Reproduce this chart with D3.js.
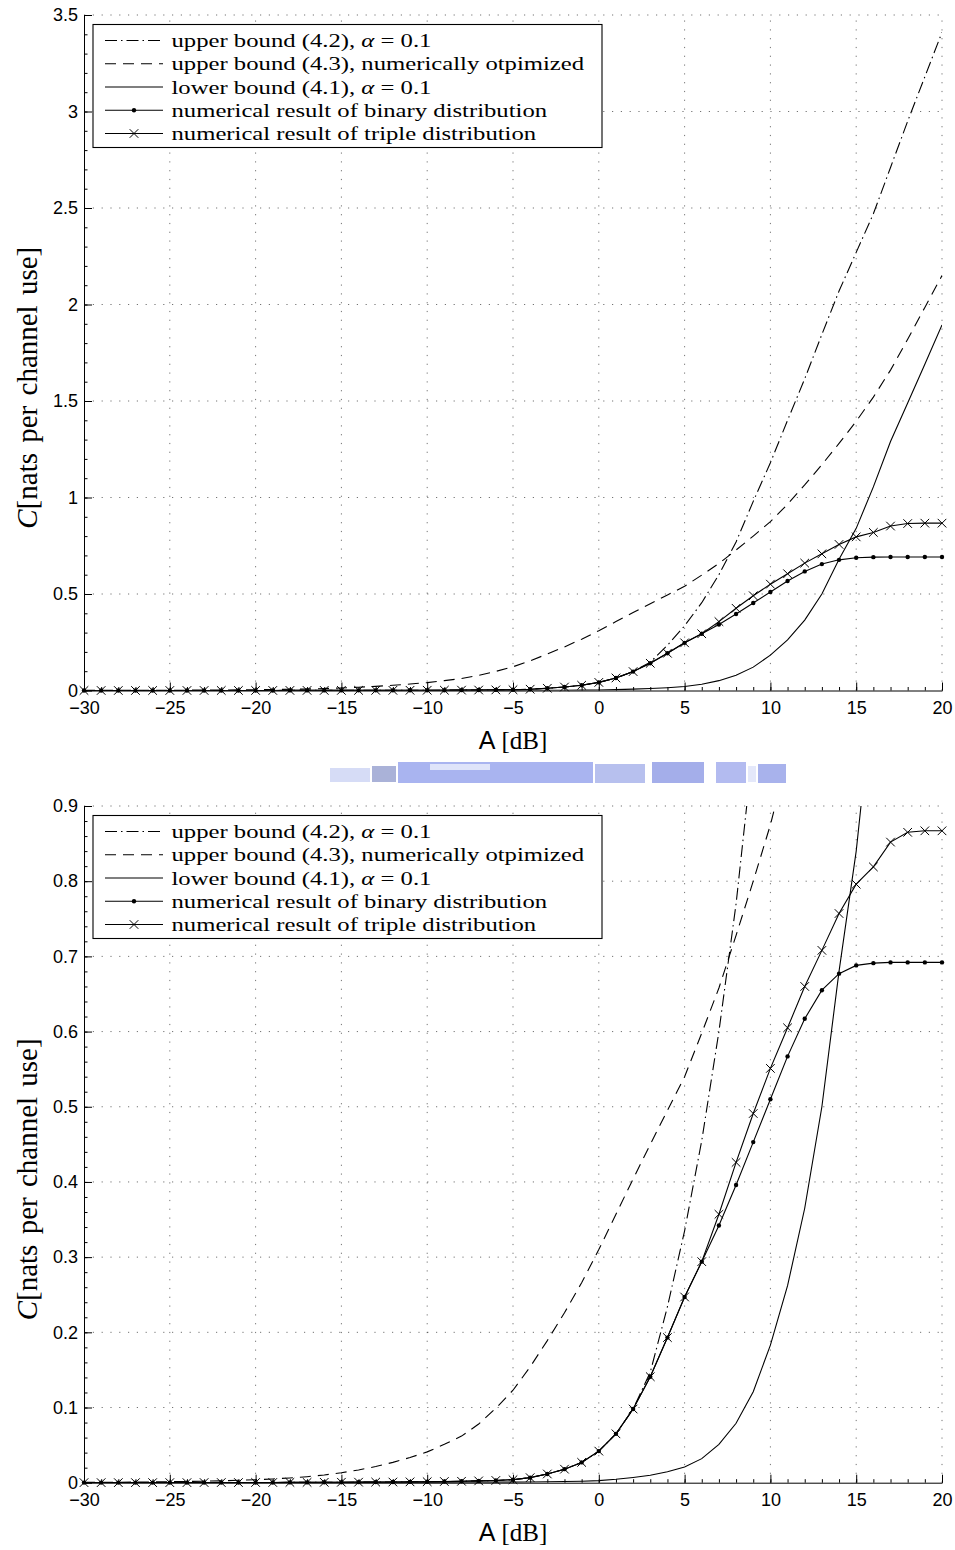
<!DOCTYPE html>
<html><head><meta charset="utf-8">
<script src="https://cdn.jsdelivr.net/npm/d3@7/dist/d3.min.js"></script>
<style>body{margin:0;background:#fff}</style>
</head><body>
<svg id="c" width="955" height="1550" xmlns="http://www.w3.org/2000/svg"></svg>
<script>
// ---------------- data ----------------
const snrDb = [-30,-29,-28,-27,-26,-25,-24,-23,-22,-21,-20,-19,-18,-17,-16,-15,-14,-13,-12,-11,-10,-9,-8,-7,-6,-5,-4,-3,-2,-1,0,1,2,3,4,5,6,7,8,9,10,11,12,13,14,15,16,17,18,19,20];

// upper bound (4.2), alpha = 0.1  (dash-dot)
const upper42 = [0.0001,0.0001,0.0001,0.0001,0.0001,0.0001,0.0001,0.0002,0.0002,0.0002,0.0003,0.0003,0.0004,0.0004,0.0005,0.0006,0.0007,0.0008,0.0009,0.0011,0.0013,0.0016,0.0019,0.0024,0.003,0.004,0.0067,0.0116,0.018,0.027,0.042,0.065,0.098,0.147,0.234,0.335,0.455,0.60,0.77,0.98,1.18,1.40,1.615,1.845,2.07,2.27,2.47,2.71,2.95,3.18,3.41];
// upper bound (4.3), numerically optimized (dashed)
const upper43 = [0.0004,0.0005,0.0006,0.0008,0.001,0.0013,0.0016,0.002,0.0025,0.0032,0.004,0.005,0.0063,0.008,0.0102,0.0133,0.017,0.0215,0.027,0.0335,0.041,0.051,0.062,0.078,0.099,0.123,0.154,0.189,0.226,0.266,0.31,0.357,0.404,0.45,0.495,0.54,0.598,0.658,0.728,0.80,0.875,0.965,1.065,1.17,1.28,1.395,1.52,1.66,1.82,1.985,2.15];
// lower bound (4.1), alpha = 0.1 (solid)
const lower41 = [0,0,0,0,0,0,0,0,0,0,0.0001,0.0001,0.0001,0.0001,0.0001,0.0001,0.0002,0.0002,0.0002,0.0003,0.0003,0.0004,0.0005,0.0006,0.0007,0.0008,0.001,0.0013,0.0016,0.002,0.0027,0.0045,0.007,0.010,0.0146,0.021,0.032,0.051,0.079,0.121,0.183,0.262,0.365,0.50,0.68,0.84,1.055,1.29,1.49,1.69,1.894];
// numerical result, binary distribution (dots)
const binary = [0.0001,0.0001,0.0001,0.0001,0.0001,0.0001,0.0001,0.0002,0.0002,0.0002,0.0003,0.0003,0.0004,0.0004,0.0005,0.0006,0.0007,0.0008,0.0009,0.0011,0.0013,0.0016,0.0019,0.0024,0.003,0.004,0.0067,0.0116,0.018,0.027,0.042,0.065,0.098,0.141,0.193,0.247,0.294,0.342,0.396,0.453,0.51,0.567,0.617,0.655,0.677,0.688,0.691,0.692,0.692,0.692,0.692];
// numerical result, triple distribution (crosses)
const triple = [0.0001,0.0001,0.0001,0.0001,0.0001,0.0001,0.0001,0.0002,0.0002,0.0002,0.0003,0.0003,0.0004,0.0004,0.0005,0.0006,0.0007,0.0008,0.0009,0.0011,0.0013,0.0016,0.0019,0.0024,0.003,0.004,0.0067,0.0116,0.018,0.027,0.042,0.065,0.098,0.141,0.193,0.247,0.294,0.357,0.426,0.491,0.551,0.605,0.66,0.708,0.757,0.796,0.819,0.852,0.865,0.867,0.867];

const xTickValues = [-30,-25,-20,-15,-10,-5,0,5,10,15,20];
const xTickLabels = ["\u221230","\u221225","\u221220","\u221215","\u221210","\u22125","0","5","10","15","20"];
const yTopTickValues = [0,0.5,1,1.5,2,2.5,3,3.5];
const yTopTickLabels = ["0","0.5","1","1.5","2","2.5","3","3.5"];
const yBotTickValues = [0,0.1,0.2,0.3,0.4,0.5,0.6,0.7,0.8,0.9];
const yBotTickLabels = ["0","0.1","0.2","0.3","0.4","0.5","0.6","0.7","0.8","0.9"];

const legendLabels = [
  ["upper bound (4.2), ", "\u03b1", " = 0.1"],
  ["upper bound (4.3), numerically otpimized"],
  ["lower bound (4.1), ", "\u03b1", " = 0.1"],
  ["numerical result of binary distribution"],
  ["numerical result of triple distribution"]
];
const xLabel = "[dB]";
const yLabel = "[nats per channel use]";

// ---------------- drawing ----------------
const svg = d3.select("#c");
const defs = svg.append("defs");
const SANS = "'Liberation Sans', Arial, sans-serif";
const SERIF = "'Liberation Serif', 'Times New Roman', serif";

// measure stretch for serif legend text (reference is horizontally wider)
const probe = svg.append("text").attr("font-family", SERIF).attr("font-size", 19)
  .text("numerical result of triple distribution");
const serifScale = 365 / probe.node().getComputedTextLength();
probe.remove();

const series = [
  {vals: upper42, dash: "12 4 1.5 4", marker: null},
  {vals: upper43, dash: "11 7", marker: null},
  {vals: lower41, dash: null, marker: null},
  {vals: binary, dash: null, marker: "dot"},
  {vals: triple, dash: null, marker: "x"}
];

function drawMarker(g, type, cx, cy) {
  if (type === "dot") {
    g.append("circle").attr("cx", cx).attr("cy", cy).attr("r", 2.2).attr("fill", "#000");
  } else if (type === "x") {
    const s = 4.3;
    g.append("path").attr("d", `M${cx-s},${cy-s}L${cx+s},${cy+s}M${cx-s},${cy+s}L${cx+s},${cy-s}`)
      .attr("stroke", "#000").attr("stroke-width", 1).attr("fill", "none");
  }
}

function panel(cfg) {
  const x = d3.scaleLinear().domain([-30, 20]).range([84, 942]);
  const y = d3.scaleLinear().domain([0, cfg.ymax]).range([cfg.yB, cfg.yT]);
  const g = svg.append("g");
  const clipId = "clip" + cfg.id;
  defs.append("clipPath").attr("id", clipId).append("rect")
    .attr("x", x(-30)).attr("y", y(cfg.ymax)).attr("width", x(20) - x(-30)).attr("height", y(0) - y(cfg.ymax));

  // grid (dotted)
  const grid = g.append("g").attr("stroke", "#000").attr("stroke-opacity", 0.55)
    .attr("stroke-width", 1).attr("stroke-dasharray", "1.2 7.6");
  xTickValues.filter(v => v > -30).forEach(v => {
    grid.append("line").attr("x1", x(v)).attr("x2", x(v)).attr("y1", y(0)).attr("y2", y(cfg.ymax));
  });
  cfg.yTicks.filter(v => v > 0).forEach(v => {
    grid.append("line").attr("x1", x(-30)).attr("x2", x(20)).attr("y1", y(v)).attr("y2", y(v));
  });

  // minor ticks
  const xMinor = d3.axisBottom(x).tickValues(snrDb).tickSize(-3.5).tickFormat("").tickSizeOuter(0);
  g.append("g").attr("transform", `translate(0,${y(0)})`).call(xMinor).call(a => a.select(".domain").remove());
  const yMinor = d3.axisLeft(y).tickValues(d3.range(0, cfg.ymax + 1e-9, cfg.minorStep)).tickSize(-3.5).tickFormat("").tickSizeOuter(0);
  g.append("g").attr("transform", `translate(${x(-30)},0)`).call(yMinor).call(a => a.select(".domain").remove());

  // major axes
  const xAxis = d3.axisBottom(x).tickValues(xTickValues).tickSize(-8).tickSizeOuter(0).tickPadding(10.7)
    .tickFormat((d, i) => xTickLabels[i]);
  const gx = g.append("g").attr("transform", `translate(0,${y(0)})`).call(xAxis);
  const yAxis = d3.axisLeft(y).tickValues(cfg.yTicks).tickSize(-8).tickSizeOuter(0).tickPadding(6)
    .tickFormat((d, i) => cfg.yLabels[i]);
  const gy = g.append("g").attr("transform", `translate(${x(-30)},0)`).call(yAxis);
  [gx, gy].forEach(a => {
    a.selectAll("text").attr("font-family", SANS).attr("font-size", 18).attr("fill", "#000");
    a.selectAll("line").attr("stroke", "#000");
    a.select(".domain").attr("stroke", "#000").attr("stroke-width", 1);
  });
  g.selectAll(".tick line").attr("stroke", "#000").attr("stroke-width", 1);

  // curves
  const curves = g.append("g").attr("clip-path", `url(#${clipId})`);
  series.forEach(s => {
    const line = d3.line().x((d, i) => x(snrDb[i])).y(d => y(d));
    curves.append("path").datum(s.vals).attr("d", line).attr("fill", "none")
      .attr("stroke", "#000").attr("stroke-width", 1.1)
      .attr("stroke-dasharray", s.dash);
  });
  // markers
  const mk = g.append("g");
  series.filter(s => s.marker).forEach(s => {
    s.vals.forEach((v, i) => {
      if (v <= cfg.ymax) drawMarker(mk, s.marker, x(snrDb[i]), y(v));
    });
  });

  // legend
  const lg = g.append("g").attr("transform", `translate(93,${cfg.yT + 9.5})`);
  lg.append("rect").attr("x", 0).attr("y", 0).attr("width", 509).attr("height", 123)
    .attr("fill", "#fff").attr("stroke", "#000").attr("stroke-width", 1.1);
  series.forEach((s, i) => {
    const ry = 16 + i * 23.25;
    lg.append("line").attr("x1", 12).attr("x2", 70).attr("y1", ry).attr("y2", ry)
      .attr("stroke", "#000").attr("stroke-width", 1.1).attr("stroke-dasharray", s.dash);
    if (s.marker) drawMarker(lg, s.marker, 41, ry);
    const t = lg.append("text").attr("transform", `translate(78.5,${ry + 6.5}) scale(${serifScale},1)`)
      .attr("font-family", SERIF).attr("font-size", 19).attr("fill", "#000");
    legendLabels[i].forEach((part, k) => {
      t.append("tspan").attr("font-style", part === "\u03b1" ? "italic" : null).text(part);
    });
  });

  // x label
  const xl = svg.append("g").attr("transform", `translate(${(x(-30) + x(20)) / 2},${cfg.yB + 58.5})`);
  const xt = xl.append("text").attr("text-anchor", "middle").attr("fill", "#000");
  xt.append("tspan").attr("font-family", SANS).attr("font-size", 25).text("A");
  xt.append("tspan").attr("font-family", SERIF).attr("font-size", 25).attr("dx", 6).text(xLabel);

  // y label
  const yl = svg.append("g").attr("transform", `translate(37,${(cfg.yT + cfg.yB) / 2 + 35}) rotate(-90)`);
  const yt = yl.append("text").attr("text-anchor", "middle").attr("fill", "#000").attr("font-family", SERIF)
    .attr("font-size", 29).attr("word-spacing", 3);
  yt.append("tspan").attr("font-style", "italic").text("C");
  yt.append("tspan").text(yLabel);
}

panel({id: "top", ymax: 3.5, yT: 15, yB: 690.5, yTicks: yTopTickValues, yLabels: yTopTickLabels, minorStep: 0.1});
panel({id: "bot", ymax: 0.9, yT: 806, yB: 1482.7, yTicks: yBotTickValues, yLabels: yBotTickLabels, minorStep: 0.02});

// scanning artefact strip between the panels (decorative)
const strip = svg.append("g");
[[330,768,40,14,"#d6dcf6"],[372,766,24,16,"#aab2d8"],[398,762,195,21,"#a9b4f0"],[430,764,60,6,"#dfe4fa"],
 [595,764,50,19,"#b7c0ee"],[652,762,52,21,"#a4aeea"],[716,762,30,21,"#b3bbf0"],[748,766,8,16,"#e4e8fa"],[758,764,28,19,"#a8b2ec"]]
 .forEach(r => strip.append("rect").attr("x", r[0]).attr("y", r[1]).attr("width", r[2]).attr("height", r[3]).attr("fill", r[4]));
</script>
</body></html>
